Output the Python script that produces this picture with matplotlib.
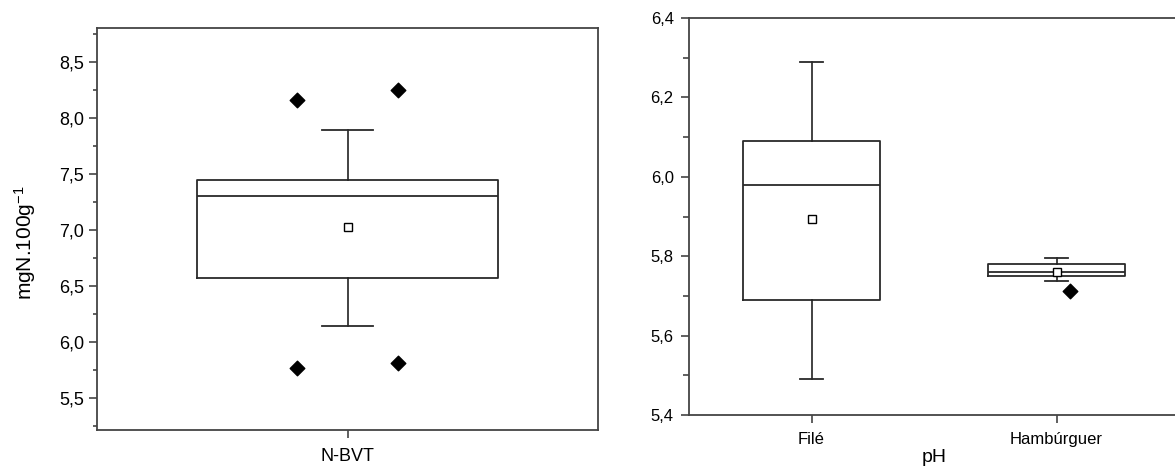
import numpy as np
import matplotlib.pyplot as plt
from matplotlib.ticker import MultipleLocator, FuncFormatter

plt.rcParams["font.family"] = ["Liberation Sans", "DejaVu Sans"]
plt.rcParams["mathtext.default"] = "regular"

# N-BVT (mgN.100g-1)
nbvt_label = "N-BVT"
nbvt_q1, nbvt_med, nbvt_q3 = 6.57, 7.30, 7.44
nbvt_whislo, nbvt_whishi = 6.14, 7.89
nbvt_mean = 7.02
nbvt_outliers = [8.16, 8.25, 5.76, 5.81]
nbvt_outlier_offsets = [-0.1, 0.1, -0.1, 0.1]

# pH
ph_labels = ["Filé", "Hambúrguer"]
ph_q1 = [5.69, 5.751]
ph_med = [5.98, 5.761]
ph_q3 = [6.09, 5.781]
ph_whislo = [5.49, 5.737]
ph_whishi = [6.29, 5.796]
ph_mean = [5.893, 5.760]
ph_outliers = [[], [5.712]]
ph_outlier_offsets = [[], [0.057]]

spine_col = "#444444"


def comma(v, pos):
    return f"{v:.1f}".replace(".", ",")


def style_axis(ax, labelsize, pad, minor_len):
    for s in ax.spines.values():
        s.set_color(spine_col)
        s.set_linewidth(1.3)
    ax.tick_params(axis="both", which="major", direction="out", length=6,
                   width=1.2, color=spine_col, labelsize=labelsize)
    ax.tick_params(axis="y", which="major", pad=pad)
    ax.tick_params(axis="y", which="minor", direction="out", length=minor_len,
                   width=1.2, color=spine_col)
    ax.tick_params(top=False, right=False)


def draw_boxes(ax, pos, labels, q1, med, q3, lo, hi, mean, width, capw):
    stats = []
    for i in range(len(pos)):
        stats.append(dict(label=labels[i], q1=q1[i], med=med[i], q3=q3[i],
                          whislo=lo[i], whishi=hi[i], mean=mean[i], fliers=[]))
    ax.bxp(stats, positions=pos, widths=width, showmeans=True,
           showfliers=False, capwidths=capw, manage_ticks=False,
           boxprops=dict(color="#2a2a2a", linewidth=1.3),
           medianprops=dict(color="#2a2a2a", linewidth=1.3),
           whiskerprops=dict(color="#222222", linewidth=1.2),
           capprops=dict(color="#2a2a2a", linewidth=1.3),
           meanprops=dict(marker="s", markerfacecolor="white",
                          markeredgecolor="black", markersize=6,
                          markeredgewidth=1.0))


fig = plt.figure(figsize=(11.75, 4.75), dpi=100)

# left panel: N-BVT
ax1 = fig.add_axes([97 / 1175, 1 - 430 / 475, 501 / 1175, 402 / 475])
draw_boxes(ax1, [0.5], [nbvt_label], [nbvt_q1], [nbvt_med], [nbvt_q3],
           [nbvt_whislo], [nbvt_whishi], [nbvt_mean], 0.6, 0.1)
ax1.scatter([0.5 + d for d in nbvt_outlier_offsets], nbvt_outliers,
            marker="D", s=55, color="black", zorder=3)
ax1.set_xlim(0, 1)
ax1.set_ylim(5.21, 8.80)
ax1.set_xticks([0.5])
ax1.set_xticklabels([nbvt_label], fontsize=15.5)
ax1.yaxis.set_major_locator(MultipleLocator(0.5))
ax1.yaxis.set_minor_locator(MultipleLocator(0.25))
ax1.yaxis.set_major_formatter(FuncFormatter(comma))
ax1.set_ylabel("mgN.100g$^{-1}$", fontsize=15)
ax1.yaxis.set_label_coords(-0.118, 0.465)
style_axis(ax1, 13, 3.5, 3)
ax1.tick_params(axis="x", pad=7)

# right panel: pH
ax2 = fig.add_axes([689 / 1175, 1 - 415 / 475, 490 / 1175, 397 / 475])
draw_boxes(ax2, [1, 2], ph_labels, ph_q1, ph_med, ph_q3, ph_whislo,
           ph_whishi, ph_mean, 0.56, 0.09)
for i, vals in enumerate(ph_outliers):
    if vals:
        ax2.scatter([i + 1 + d for d in ph_outlier_offsets[i]], vals,
                    marker="D", s=55, color="black", zorder=3)
ax2.set_xlim(0.5, 2.5)
ax2.set_ylim(5.4, 6.4)
ax2.set_xticks([1, 2])
ax2.set_xticklabels(ph_labels, fontsize=13)
ax2.yaxis.set_major_locator(MultipleLocator(0.2))
ax2.yaxis.set_minor_locator(MultipleLocator(0.1))
ax2.yaxis.set_major_formatter(FuncFormatter(comma))
ax2.set_xlabel("pH", fontsize=14, labelpad=2)
style_axis(ax2, 12, 5, 4)
ax2.tick_params(axis="x", pad=6)

fig.savefig("out.png", dpi=100)
